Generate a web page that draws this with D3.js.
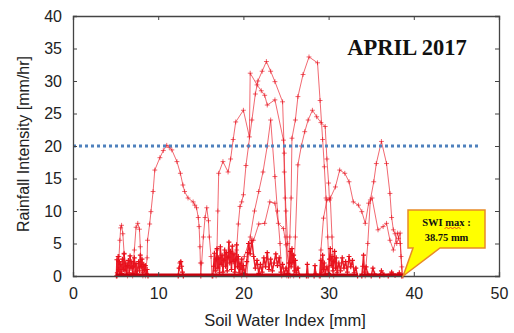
<!DOCTYPE html>
<html>
<head>
<meta charset="utf-8">
<script src="https://cdn.jsdelivr.net/npm/d3@7"></script>
<style>
  body { margin: 0; background: #fff; }
  svg { display: block; }
  .tick text { font-family: "Liberation Sans", Arial, sans-serif; font-size: 16px; fill: #222; }
</style>
</head>
<body>
<div id="chart"></div>
<script>
// axis setup
const xTicks = [0, 10, 20, 30, 40, 50];
const yTicks = [0, 5, 10, 15, 20, 25, 30, 35, 40];
const threshold = 20;      // mm/hr
const swiMax = 38.75;      // mm
const titleText = "APRIL 2017";
const xLabel = "Soil Water Index [mm]";
const yLabel = "Rainfall Intensity [mm/hr]";

// rainfall events, [swi, intensity]
const ev1 = [[5.2,0],[5.4,3],[5.5,5.5],[5.6,7.4],[5.7,7.8],[5.85,6.5],[6.0,3.5],[6.2,1.5],[6.4,0]];
const ev2 = [[7.0,0],[7.1,2],[7.2,4],[7.4,7.5],[7.6,8.1],[7.8,7.2],[7.9,4.5],[8.0,1.4],[8.2,0]];
const ev3 = [[8.5,0],[8.7,2.8],[8.75,5.5],[9.0,8],[9.15,9.9],[9.4,13],[9.6,16.3],[10.2,18.2],[10.6,19.3],
  [11.0,20.1],[11.3,19.8],[11.6,19.4],[12.2,17.6],[12.6,15.8],[12.9,14],[13.1,13],[13.5,12],[14.1,11.4],
  [14.3,10.9],[14.5,10.5],[14.7,9],[14.8,7.6],[14.9,4.5],[14.95,2],[15.0,0]];
const ev4 = [[15.0,0],[15.1,2],[15.3,6],[15.5,9],[15.7,10.5],[15.9,8.5],[16.0,6],[16.2,3],[16.3,0]];
const ev5 = [[16.8,0],[16.9,4],[17.0,10],[17.1,15.8],[17.6,17.6],[18.2,16],[18.5,18],[18.8,21],[19.1,23.7],
  [20.0,25.5],[20.7,21.4],[20.8,31.2],[21.6,29.4],[22.1,28.5],[22.5,27.8],[22.8,26.3],[23.7,27.1],
  [24.7,20.9],[24.8,16],[25.0,10],[25.2,5],[25.3,0]];
const ev6 = [[18.9,0],[19.2,4],[19.4,8],[19.6,10.7],[19.8,11.4],[20.0,12.5],[20.3,17],[20.6,20],[21.0,24],
  [21.4,28],[21.7,30],[22.2,31.5],[22.7,33],[23.2,31.5],[23.7,29.9],[24.6,26.8],[24.8,18.9],[24.9,12],
  [25.0,6],[25.1,0]];
const ev7 = [[19.8,0],[20.1,3],[20.6,5],[21.2,5.5],[21.8,8],[22.5,8.1],[23.1,11.4],[23.7,11.2],[24.1,8.1],
  [24.7,7.3],[25.0,4.8],[25.3,2],[25.5,0]];
const ev8 = [[20.4,0],[20.8,6],[21.3,10],[21.8,13],[22.3,16],[22.8,20],[23.2,24],[23.7,15.3],[24.0,10],
  [24.3,5],[24.5,0]];
const ev9 = [[25.3,0],[25.45,6],[25.6,12],[25.7,21.2],[26.1,24],[26.4,27.6],[27.0,31],[27.7,33.7],[28.7,32.8],
  [29.0,27],[29.3,21],[29.5,16.8],[29.7,12],[29.9,6],[30.1,0]];
const ev10 = [[25.9,0],[26.1,6],[26.4,17.1],[26.8,20],[27.2,22.2],[27.6,24],[28.1,25.5],[28.6,24.5],
  [29.1,23.6],[29.6,23],[29.8,18],[30.0,14.3],[30.1,11.7],[30.8,13.7],[31.3,16.3],[31.9,15.8],[32.4,14.5],
  [32.9,11.4],[33.5,10.9],[33.9,9.9],[34.3,8.1],[34.7,11.2],[35.1,12],[35.8,7.1],[36.4,7.6],[36.8,8.1],
  [37.2,5.5],[37.6,4],[38.1,6.6],[38.4,5],[38.6,1.4],[38.75,0]];
const ev11 = [[28.9,0],[29.1,4],[29.4,8.9],[29.8,11.7],[30.2,12],[30.4,6],[30.6,0]];
const ev12 = [[34.3,0],[34.6,5],[34.9,11.7],[35.3,14.5],[35.6,17.3],[36.2,20.7],[36.8,17.3],[37.2,12.7],
  [37.4,9],[37.6,7.1],[37.8,6.5],[38.0,5],[38.2,5.8],[38.4,6.6],[38.5,3],[38.6,0]];

// low-intensity hours
const low1 = [[5.1,0],[5.15,2.5],[5.2,0.5],[5.3,3],[5.35,1],[5.45,2.2],[5.5,0.3],[5.6,1.8],[5.7,0.4],[5.8,2.6],
  [5.9,1],[6.0,3.4],[6.1,0.8],[6.2,2],[6.3,0.3],[6.4,1.6],[6.5,2.4],[6.6,0.5],[6.7,3.1],[6.8,1.2],[6.9,2.2],
  [7.0,0.4],[7.1,1.5],[7.2,2.8],[7.3,0.6],[7.4,1.9],[7.5,0.3],[7.7,2.2],[7.8,0.8],[7.9,3.2],[8.0,1.4],
  [8.1,2.6],[8.2,0.5],[8.3,1.8],[8.4,0.9],[8.5,1.6],[8.6,0.3],[8.7,1],[8.8,0]];
const low2 = [[12.35,0],[12.45,1.2],[12.55,2],[12.65,2.2],[12.75,1.5],[12.85,0.6],[12.95,0]];
const low3 = [[16.4,0],[16.5,1.5],[16.6,3.5],[16.7,0.8],[16.8,2.6],[16.9,4.2],[17.0,1.2],[17.1,2.8],[17.2,0.5],
  [17.3,4.5],[17.4,1.8],[17.5,3.2],[17.6,0.6],[17.7,2.4],[17.8,4],[17.9,1.5],[18.0,3.6],[18.1,0.8],[18.2,2.9],
  [18.3,5.2],[18.4,2],[18.5,3.8],[18.6,1],[18.7,4.6],[18.8,2.2],[18.9,3.4],[19.0,0.6],[19.1,2.5],[19.2,4.8],
  [19.3,1.4],[19.4,3],[19.5,0.5],[19.6,2],[19.7,1],[19.8,2.6],[19.9,0.4],[20.0,1.6],[20.2,0.3],[20.4,2.2],
  [20.5,3.6],[20.6,5],[20.8,3.4],[21.0,5.5],[21.2,3],[21.4,1.2],[21.6,2.4],[21.8,0.4],[22.0,1.8],[22.2,0.6],
  [22.4,2.8],[22.6,1.4],[22.8,3.6],[23.0,1],[23.2,2.6],[23.4,0.8],[23.6,2],[23.8,3.4],[24.0,1.6],[24.2,2.8],
  [24.4,0.6],[24.6,1.8],[24.8,0.3],[25.0,1.2],[25.2,0.4],[25.4,2],[25.5,3.8],[25.6,1.4],[25.7,4.2],[25.8,2],
  [25.9,3.2],[26.0,0.8],[26.1,2.4],[26.2,0.5],[26.4,1.2],[26.6,0]];
const low4 = [[27.4,0],[27.5,1.8],[27.6,0]];
const low5 = [[28.3,0],[28.4,1.6],[28.5,0.3],[29.0,0],[29.1,2.4],[29.2,0.5],[29.3,3.2],[29.4,1],[29.5,2],
  [29.6,0.3],[29.8,1.4],[30.0,0.4],[30.1,2.6],[30.2,4.2],[30.3,1.6],[30.4,3],[30.5,0.8],[30.6,2.2],[30.7,3.8],
  [30.8,1.2],[30.9,2.8],[31.0,0.5],[31.2,2],[31.4,0.8],[31.6,2.8],[31.8,1.2],[32.0,2.2],[32.2,0.6],[32.4,3],
  [32.6,1.4],[32.8,2.4],[33.0,0.5],[33.2,1.2],[33.4,0]];
const low6 = [[33.9,0],[34.0,1.5],[34.1,3.2],[34.2,0.6],[34.4,1.4],[34.6,0.3],[35.0,0],[35.2,1.2],[35.4,0.3],
  [36.0,0],[36.2,0.8],[36.5,0.2],[37.0,0],[37.4,0.6],[37.8,0.1],[38.3,0.5],[38.6,0]];

// dry hours sit on zero
const zeroRuns = [[5.0, 33.45], [33.6, 38.75]];

const events = [ev1, ev2, ev3, ev4, ev5, ev6, ev7, ev8, ev9, ev10, ev11, ev12];
const lows = [low1, low2, low3, low4, low5, low6];

const W = 514, H = 333;
const m = { left: 73, right: 15, top: 16, bottom: 57 };
const pw = W - m.left - m.right, ph = H - m.top - m.bottom;

const x = d3.scaleLinear().domain([0, 50]).range([0, pw]);
const y = d3.scaleLinear().domain([0, 40]).range([ph, 0]);

const svg = d3.select("#chart").append("svg")
  .attr("width", W).attr("height", H);
const g = svg.append("g").attr("transform", `translate(${m.left},${m.top})`);

const red = "#e8101c";
const line = d3.line().x(d => x(d[0])).y(d => y(d[1]));
const plus = d3.symbol().type(d3.symbolPlus).size(9);

// low intensity mass
lows.forEach(s => {
  g.append("path").datum(s).attr("d", line)
    .attr("fill", "none").attr("stroke", red).attr("stroke-width", 1.5).attr("opacity", 0.95);
  g.selectAll(null).data(s).join("path")
    .attr("d", plus).attr("transform", d => `translate(${x(d[0])},${y(d[1])})`)
    .attr("stroke", red).attr("stroke-width", 1.2).attr("fill", "none");
});

// events
events.forEach(s => {
  g.append("path").datum(s).attr("d", line)
    .attr("fill", "none").attr("stroke", red).attr("stroke-width", 0.9).attr("opacity", 0.7);
  g.selectAll(null).data(s).join("path")
    .attr("d", plus).attr("transform", d => `translate(${x(d[0])},${y(d[1])})`)
    .attr("stroke", red).attr("stroke-width", 0.8).attr("fill", "none").attr("opacity", 0.8);
});

// zero runs
g.selectAll(".zero").data(zeroRuns).join("line")
  .attr("x1", d => x(d[0])).attr("x2", d => x(d[1]))
  .attr("y1", y(0) - 1).attr("y2", y(0) - 1)
  .attr("stroke", "#c8000c").attr("stroke-width", 3);

// threshold line
g.append("line")
  .attr("x1", x(0)).attr("x2", x(47.8))
  .attr("y1", y(threshold)).attr("y2", y(threshold))
  .attr("stroke", "#4f81bd").attr("stroke-width", 3)
  .attr("stroke-dasharray", "3,3");

// axes (ticks inside, mirrored)
const axisColor = "#444";
const gx = g.append("g").attr("transform", `translate(0,${ph})`)
  .call(d3.axisBottom(x).tickValues(xTicks).tickSize(-4).tickPadding(9));
const gxt = g.append("g")
  .call(d3.axisTop(x).tickValues(xTicks).tickSize(-4).tickFormat(""));
const gy = g.append("g")
  .call(d3.axisLeft(y).tickValues(yTicks).tickSize(-4).tickPadding(11));
const gyr = g.append("g").attr("transform", `translate(${pw},0)`)
  .call(d3.axisRight(y).tickValues(yTicks).tickSize(-4).tickFormat(""));
[gx, gxt, gy, gyr].forEach(a => {
  a.select(".domain").attr("stroke", axisColor).attr("stroke-width", 1.3);
  a.selectAll(".tick line").attr("stroke", axisColor);
});
gx.selectAll(".tick text").attr("dy", "0.85em");

// labels
svg.append("text")
  .attr("x", m.left + pw / 2 - 1).attr("y", 326)
  .attr("text-anchor", "middle")
  .style("font-family", "'Liberation Sans', Arial, sans-serif")
  .style("font-size", "16.5px").attr("fill", "#222")
  .text(xLabel);
svg.append("text")
  .attr("transform", `translate(29,${m.top + y(20) - 2}) rotate(-90)`)
  .attr("text-anchor", "middle")
  .style("font-family", "'Liberation Sans', Arial, sans-serif")
  .style("font-size", "16px").attr("fill", "#222")
  .text(yLabel);

// title
g.append("text")
  .attr("x", x(32.2)).attr("y", 39)
  .style("font-family", "'Liberation Serif', 'Times New Roman', serif")
  .style("font-weight", "bold").style("font-size", "22.5px").attr("fill", "#111")
  .text(titleText);

// callout for SWI max
const tipX = x(swiMax), tipY = y(0);
const bx0 = 335, bx1 = 412, by0 = 194, by1 = 232;
g.append("path")
  .attr("d", `M${bx0},${by0} L${bx1},${by0} L${bx1},${by1} L${bx0 + 32},${by1} L${tipX},${tipY} L${bx0 + 5},${by1} L${bx0},${by1} Z`)
  .attr("fill", "#ffff00").attr("stroke", "#e88a28").attr("stroke-width", 1.5);
const cx = (bx0 + bx1) / 2;
g.append("text").attr("x", cx).attr("y", by0 + 16)
  .attr("text-anchor", "middle")
  .style("font-family", "'Liberation Serif', 'Times New Roman', serif")
  .style("font-weight", "bold").style("font-size", "10.5px").attr("fill", "#111")
  .text("SWI max :");
g.append("path")
  .attr("d", `M${cx - 2},${by0 + 18.5} l2,-1 l2,1 l2,-1 l2,1 l2,-1 l2,1 l2,-1 l2,1`)
  .attr("fill", "none").attr("stroke", "#e02020").attr("stroke-width", 0.8);
g.append("text").attr("x", cx).attr("y", by0 + 31)
  .attr("text-anchor", "middle")
  .style("font-family", "'Liberation Serif', 'Times New Roman', serif")
  .style("font-weight", "bold").style("font-size", "10.5px").attr("fill", "#111")
  .text(swiMax + " mm");
</script>
</body>
</html>
